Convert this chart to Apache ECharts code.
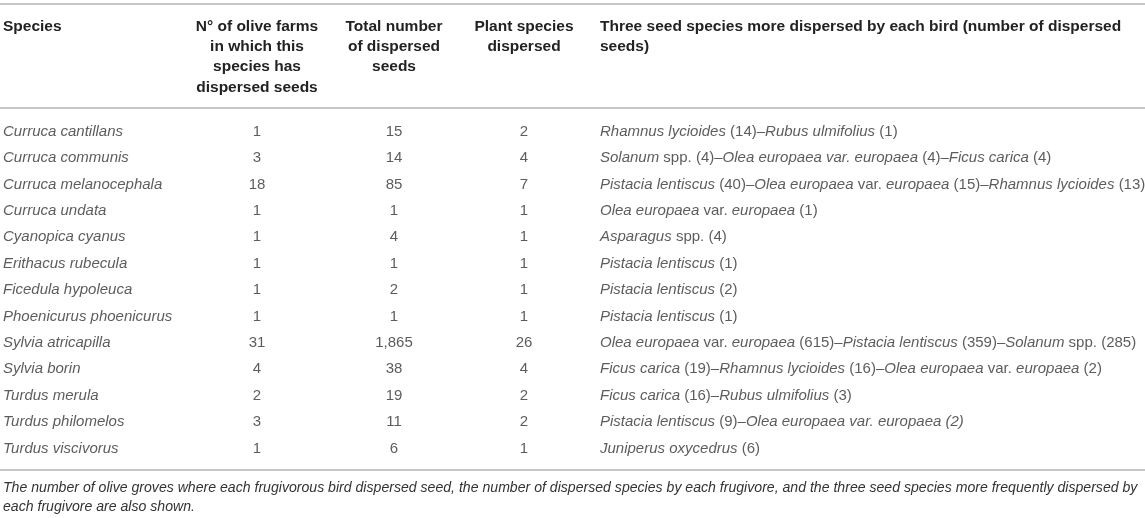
<!DOCTYPE html>
<html><head><meta charset="utf-8">
<script src="https://cdn.jsdelivr.net/npm/echarts@6/dist/echarts.min.js"></script>
<style>html,body{margin:0;padding:0;background:#fff}#c{width:1145px;height:518px}</style>
</head><body><div id="c"></div>
<script>
// ---- data ----
const headers = [
  'Species',
  'N° of olive farms\nin which this\nspecies has\ndispersed seeds',
  'Total number\nof dispersed\nseeds',
  'Plant species\ndispersed',
  'Three seed species more dispersed by each bird (number of dispersed\nseeds)'
];
const species = [
  'Curruca cantillans', 'Curruca communis', 'Curruca melanocephala', 'Curruca undata',
  'Cyanopica cyanus', 'Erithacus rubecula', 'Ficedula hypoleuca', 'Phoenicurus phoenicurus',
  'Sylvia atricapilla', 'Sylvia borin', 'Turdus merula', 'Turdus philomelos', 'Turdus viscivorus'
];
const farms = [1, 3, 18, 1, 1, 1, 1, 1, 31, 4, 2, 3, 1];
const seeds = [15, 14, 85, 1, 4, 1, 2, 1, 1865, 38, 19, 11, 6];
const plants = [2, 4, 7, 1, 1, 1, 1, 1, 26, 4, 2, 2, 1];
const topSeeds = [
  '_Rhamnus lycioides_ (14)–_Rubus ulmifolius_ (1)',
  '_Solanum_ spp. (4)–_Olea europaea var. europaea_ (4)–_Ficus carica_ (4)',
  '_Pistacia lentiscus_ (40)–_Olea europaea_ var. _europaea_ (15)–_Rhamnus lycioides_ (13)',
  '_Olea europaea_ var. _europaea_ (1)',
  '_Asparagus_ spp. (4)',
  '_Pistacia lentiscus_ (1)',
  '_Pistacia lentiscus_ (2)',
  '_Pistacia lentiscus_ (1)',
  '_Olea europaea_ var. _europaea_ (615)–_Pistacia lentiscus_ (359)–_Solanum_ spp. (285)',
  '_Ficus carica_ (19)–_Rhamnus lycioides_ (16)–_Olea europaea_ var. _europaea_ (2)',
  '_Ficus carica_ (16)–_Rubus ulmifolius_ (3)',
  '_Pistacia lentiscus_ (9)–_Olea europaea var. europaea (2)_',
  '_Juniperus oxycedrus_ (6)'
];
const footnote = 'The number of olive groves where each frugivorous bird dispersed seed, the number of dispersed species by each frugivore, and the three seed species more frequently dispersed by\neach frugivore are also shown.';

// ---- layout / style ----
const FONT = '"Liberation Sans", Arial, Helvetica, sans-serif';
const FS = 15;
const HFS = 15.5;
const BODY = '#333333';
const HEAD = '#222222';
const RULE = '#c6c6c6';
const gridTop = 118.5;
const rowH = 26.4;
const colX = [3, 257, 394, 524, 600];
const colAlign = ['left', 'center', 'center', 'center', 'left'];

function toRich(s) {
  return s.split('_').map((p, i) => p ? '{' + (i % 2 ? 'i' : 'n') + '|' + p + '}' : '').join('');
}
const columns = [
  species.map(s => '{i|' + s + '}'),
  farms.map(String),
  seeds.map(v => v.toLocaleString('en-US')),
  plants.map(String),
  topSeeds.map(toRich)
];
const rich = {
  i: { fontStyle: 'italic', fontSize: FS, fontFamily: FONT, color: BODY },
  n: { fontStyle: 'normal', fontSize: FS, fontFamily: FONT, color: BODY }
};

const grid = [], xAxis = [], yAxis = [], series = [];
columns.forEach((col, k) => {
  const left = colAlign[k] === 'left';
  const w = left ? 6 : 100;
  grid.push({ left: colX[k] - w / 2, width: w, top: gridTop, height: rowH * species.length,
    containLabel: false, outerBoundsMode: 'none' });
  xAxis.push({
    gridIndex: k, type: 'category', data: [headers[k]], position: 'top',
    axisLine: { show: false }, axisTick: { show: false }, splitLine: { show: false },
    axisLabel: {
      interval: 0, margin: gridTop - 16.2, verticalAlign: 'top', align: colAlign[k],
      fontWeight: 'bold', fontSize: HFS, lineHeight: 20.4, color: HEAD, fontFamily: FONT
    }
  });
  yAxis.push({ gridIndex: k, type: 'category', data: species, inverse: true, show: false });
  series.push({
    type: 'scatter', xAxisIndex: k, yAxisIndex: k, symbolSize: 0.01, silent: true,
    data: species.map((s, i) => [headers[k], s, col[i]]),
    label: {
      show: true, position: left ? 'right' : 'inside', distance: 0,
      formatter: p => p.value[2], fontSize: FS, fontFamily: FONT, color: BODY, rich: rich
    },
    emphasis: { disabled: true }
  });
});

const chart = echarts.init(document.getElementById('c'), null, { renderer: 'canvas' });
chart.setOption({
  backgroundColor: '#ffffff',
  animation: false,
  grid, xAxis, yAxis, series,
  graphic: [
    { type: 'line', shape: { x1: 0, y1: 4, x2: 1145, y2: 4 }, style: { stroke: RULE, lineWidth: 2 } },
    { type: 'line', shape: { x1: 0, y1: 108, x2: 1145, y2: 108 }, style: { stroke: RULE, lineWidth: 2 } },
    { type: 'line', shape: { x1: 0, y1: 470, x2: 1145, y2: 470 }, style: { stroke: RULE, lineWidth: 2 } },
    { type: 'text', x: 3, y: 478.5, style: { text: footnote, fontSize: 14.1, fontStyle: 'italic',
      fontFamily: FONT, fill: BODY, lineHeight: 19, verticalAlign: 'top' } }
  ]
});
</script>
</body></html>
